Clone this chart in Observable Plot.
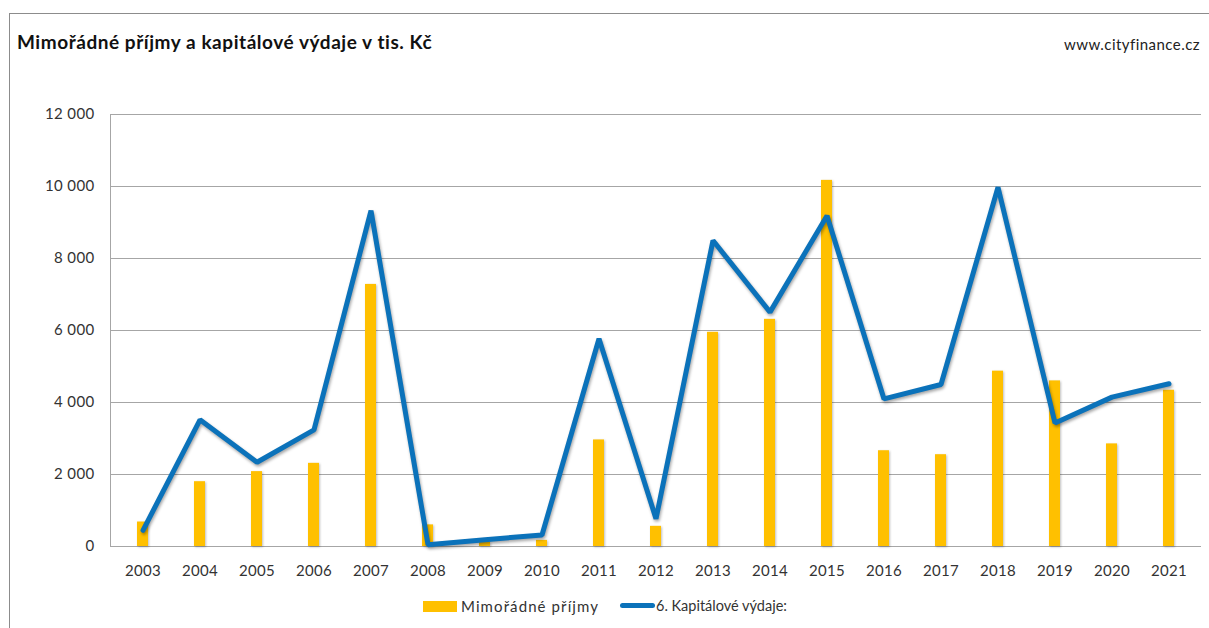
<!DOCTYPE html>
<html>
<head>
<meta charset="utf-8">
<script src="https://cdn.jsdelivr.net/npm/d3@7"></script>
<script src="https://cdn.jsdelivr.net/npm/@observablehq/plot@0.6"></script>
<style>
  html, body { margin: 0; padding: 0; background: #fff; }
  #wrap { position: relative; width: 1209px; height: 628px; overflow: hidden; font-family: Lato, "Open Sans", sans-serif; color: #222; }
  #frame { position: absolute; left: 9px; top: 13px; width: 1300px; height: 700px; border-left: 1px solid #8c8c8c; border-top: 1px solid #8c8c8c; pointer-events: none; }
  #header { position: relative; height: 100px; }
  #title { position: absolute; left: 17px; top: 30px; font-size: 19px; letter-spacing: 0.55px; font-weight: bold; color: #111; white-space: nowrap; }
  #source { position: absolute; right: 9px; top: 35px; font-size: 15px; letter-spacing: 0.45px; color: #222; white-space: nowrap; }
  #chart svg { display: block; }
  #legend { position: relative; height: 38px; font-size: 15px; color: #333; }
  .lg { position: absolute; top: 7px; display: flex; align-items: center; white-space: nowrap; }
  .sw-bar { width: 34px; height: 11px; background: #FFC000; margin-right: 4px; }
  .sw-line { width: 35px; height: 5px; background: #0B72BA; border-radius: 3px; margin-right: 1px; }
</style>
</head>
<body>
<div id="wrap">
  <div id="frame"></div>
  <div id="header">
    <div id="title">Mimořádné příjmy a kapitálové výdaje v tis. Kč</div>
    <div id="source">www.cityfinance.cz</div>
  </div>
  <div id="chart"></div>
  <div id="legend">
    <div class="lg" style="left:423px"><div class="sw-bar"></div><span style="letter-spacing:1.1px">Mimořádné příjmy</span></div>
    <div class="lg" style="left:620px"><div class="sw-line"></div><span style="font-size:14.5px">6. Kapitálové výdaje:</span></div>
  </div>
</div>
<script>
const years = ["2003","2004","2005","2006","2007","2008","2009","2010","2011","2012","2013","2014","2015","2016","2017","2018","2019","2020","2021"];
const mimoradnePrijmy = [680, 1800, 2080, 2310, 7280, 600, 120, 170, 2960, 560, 5950, 6310, 10170, 2660, 2550, 4870, 4600, 2850, 4340];
const kapitaloveVydaje = [450, 3520, 2340, 3240, 9330, 50, 190, 320, 5770, 770, 8500, 6510, 9190, 4100, 4500, 9980, 3430, 4150, 4520];
const yTicks = [0, 2000, 4000, 6000, 8000, 10000, 12000];

const data = years.map((y, i) => ({year: y, prijmy: mimoradnePrijmy[i], vydaje: kapitaloveVydaje[i]}));
const fmt = d => d3.format(",")(d).replace(/,/g, "\u00a0");

const chart = Plot.plot({
  width: 1209,
  height: 490,
  marginLeft: 110,
  marginRight: 8,
  marginTop: 14,
  marginBottom: 44,
  style: {fontFamily: "Lato, 'Open Sans', sans-serif", fontSize: "15px", letterSpacing: "0.35px", color: "#333", background: "transparent"},
  x: {type: "band", domain: years, paddingInner: 0.81, paddingOuter: 0.405, label: null},
  y: {domain: [0, 12000], label: null},
  marks: [
    Plot.gridY(yTicks, {stroke: "#a6a6a6", strokeOpacity: 1, strokeWidth: 1}),
    Plot.frame({anchor: "left", stroke: "#a6a6a6"}),
    Plot.axisY(yTicks, {tickSize: 0, tickPadding: 16, tickFormat: fmt, fontSize: 15, label: null}),
    Plot.axisX({tickSize: 0, tickPadding: 19, fontSize: 15, label: null}),
    Plot.barY(data, {x: "year", y: "prijmy", fill: "#FFC000"}),
    Plot.lineY(data, {x: "year", y: "vydaje", stroke: "#0B72BA", strokeWidth: 5, strokeLinejoin: "miter", strokeLinecap: "round"})
  ]
});
document.getElementById("chart").appendChild(chart);
d3.select(chart).selectAll("g[aria-label='line'] path").style("filter", "drop-shadow(1px 2px 1.5px rgba(0,0,0,0.35))");
d3.select(chart).selectAll("g[aria-label='bar'] rect").style("filter", "drop-shadow(1px 1px 1px rgba(0,0,0,0.25))");
</script>
</body>
</html>
